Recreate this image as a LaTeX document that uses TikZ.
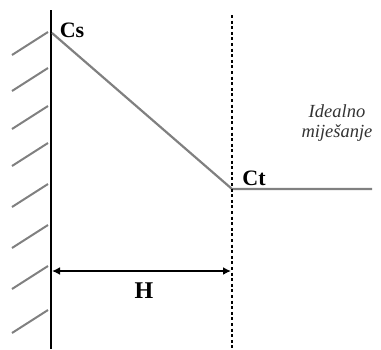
\documentclass[tikz,border=0pt]{standalone}
\usepackage{fontspec}
\setmainfont{Liberation Serif}
\usetikzlibrary{arrows.meta}
\begin{document}
\begin{tikzpicture}[x=1pt,y=-1pt,
  hatch/.style={draw=black!50,line width=2pt},
  profile/.style={draw=black!50,line width=2.2pt},
  wall/.style={draw=black,line width=2.5pt},
  boundary/.style={draw=black,line width=2.2pt,dash pattern=on 3pt off 2.6pt},
  dim/.style={draw=black,line width=2pt,{Latex[length=8pt,width=8pt]}-{Latex[length=8pt,width=8pt]}},
  lbl/.style={font=\fontsize{22}{26}\selectfont\bfseries,inner sep=0pt},
  note/.style={font=\fontsize{18.5}{20}\selectfont\itshape,text=black!80,align=center,inner sep=0pt}]
\useasboundingbox (0,0) rectangle (381,349);
% wall
\coordinate (wtop) at (51,10);
\coordinate (wbot) at (51,349);
\draw[wall] (wtop) -- (wbot);
% hatches
\foreach \yy in {32,68,106,143,184,225,266,310}{
  \draw[hatch] (48,\yy) -- (12,\yy+23);
}
% profile
\coordinate (cs) at (52,33);
\coordinate (ct) at (232,189);
\coordinate (cend) at (372,189);
\draw[profile] (cs) -- (ct) -- (cend);
% boundary
\coordinate (btop) at (232,15);
\coordinate (bbot) at (232,349);
\draw[boundary] (btop) -- (bbot);
% dimension
\coordinate (ha) at (52,271);
\coordinate (hb) at (231,271);
\draw[dim] (ha) -- (hb);
\node[lbl,font=\fontsize{24}{28}\selectfont\bfseries] (H) at (144,291) {H};
\node[lbl,anchor=base] (Cs) at (72,37) {Cs};
\node[lbl,anchor=base] (Ct) at (254,185) {Ct};
\node[note] (ideal) at (337,123) {Idealno\\mije\v{s}anje};
\end{tikzpicture}
\end{document}
